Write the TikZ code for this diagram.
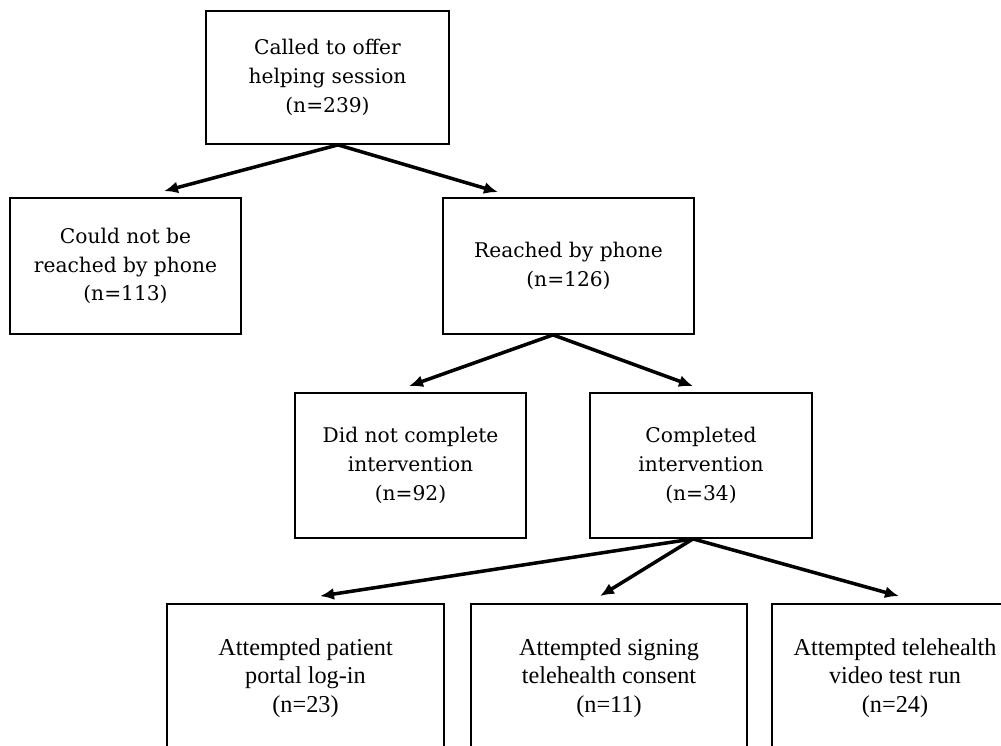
\documentclass[tikz,border=0pt]{standalone}
\usepackage{fontspec}
\setmainfont{DejaVu Serif}
\newfontfamily\timesfont{Liberation Serif}
\usetikzlibrary{arrows.meta}
\tikzset{
	kasten/.style={draw=black, line width=1pt, align=center, inner sep=0pt,
	font=\fontsize{11.5}{16.4}\selectfont},
	unten/.style={kasten, font=\timesfont\fontsize{13.8}{16.2}\selectfont},
	pfeil/.style={-{Latex[length=0.28cm, width=0.24cm]}, line width=2pt}
}
\begin{document}
\begin{tikzpicture}
	\useasboundingbox (0, 0) rectangle (20.02, -14.92);
	% Kaesten oben
	\node[kasten, minimum width=4.86cm, minimum height=2.66cm] (angerufen) at (6.55, -1.55) {Called to offer\\helping session\\(n=239)};
	\node[kasten, minimum width=4.62cm, minimum height=2.72cm] (nichterreicht) at (2.51, -5.32) {Could not be\\reached by phone\\(n=113)};
	\node[kasten, minimum width=5.02cm, minimum height=2.72cm] (erreicht) at (11.37, -5.32) {Reached by phone\\(n=126)};
	% Kaesten Mitte
	\node[kasten, minimum width=4.62cm, minimum height=2.9cm] (abgebrochen) at (8.21, -9.31) {Did not complete\\intervention\\(n=92)};
	\node[kasten, minimum width=4.44cm, minimum height=2.9cm] (abgeschlossen) at (14.02, -9.31) {Completed\\intervention\\(n=34)};
	% Kaesten unten
	\node[unten, minimum width=5.54cm, minimum height=2.96cm] (portal) at (6.11, -13.56) {Attempted patient\\portal log-in\\(n=23)};
	\node[unten, minimum width=5.52cm, minimum height=2.96cm] (consent) at (12.18, -13.56) {Attempted signing\\telehealth consent\\(n=11)};
	\node[unten, minimum width=4.92cm, minimum height=2.96cm] (video) at (17.9, -13.56) {Attempted telehealth\\video test run\\(n=24)};

	% Pfeile
	\draw[pfeil] ([xshift=0.21cm]angerufen.south) -- ([xshift=0.77cm, yshift=0.12cm]nichterreicht.north);
	\draw[pfeil] ([xshift=0.21cm]angerufen.south) -- ([xshift=-1.41cm, yshift=0.1cm]erreicht.north);
	\draw[pfeil] ([xshift=-0.31cm]erreicht.south) -- ([xshift=-0.03cm, yshift=0.12cm]abgebrochen.north);
	\draw[pfeil] ([xshift=-0.31cm]erreicht.south) -- ([xshift=-0.16cm, yshift=0.12cm]abgeschlossen.north);
	\draw[pfeil] ([xshift=-0.16cm]abgeschlossen.south) -- ([xshift=0.29cm, yshift=0.14cm]portal.north);
	\draw[pfeil] ([xshift=-0.16cm]abgeschlossen.south) -- ([xshift=-0.18cm, yshift=0.14cm]consent.north);
	\draw[pfeil] ([xshift=-0.16cm]abgeschlossen.south) -- ([xshift=0.08cm, yshift=0.14cm]video.north);
\end{tikzpicture}
\end{document}
